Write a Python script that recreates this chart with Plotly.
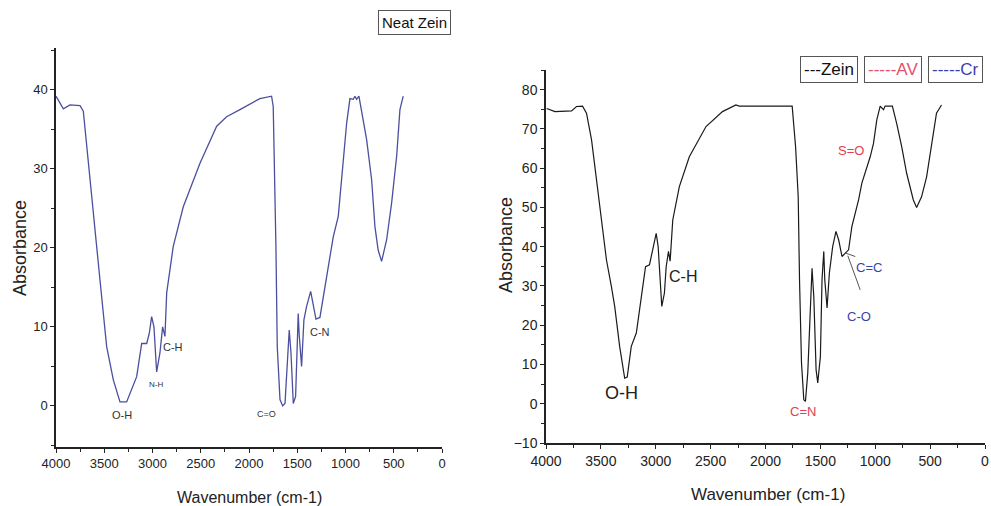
import plotly.graph_objects as go

# ---------------- Data ----------------
# Left panel: Neat Zein spectrum
zein_wn = [4000, 3924, 3855, 3751, 3717, 3682, 3613, 3544, 3475, 3406, 3337, 3268,
           3164, 3112, 3060, 3033, 3009, 2985, 2957, 2923, 2895, 2871, 2853, 2785,
           2681, 2508, 2335, 2232, 2094, 1887, 1766, 1749, 1721, 1707, 1679, 1651,
           1627, 1604, 1583, 1565, 1541, 1517, 1490, 1480, 1455, 1431, 1403, 1361,
           1334, 1306, 1265, 1231, 1179, 1127, 1075, 1041, 988, 954, 920, 902, 885,
           861, 833, 781, 729, 695, 661, 626, 574, 522, 470, 436, 402]
zein_abs = [39.2, 37.6, 38.1, 38.0, 37.3, 32.8, 24.4, 15.9, 7.5, 3.3, 0.5, 0.5,
            3.7, 7.9, 7.9, 9.2, 11.3, 10.0, 4.3, 6.7, 10.0, 8.8, 14.3, 20.2,
            25.2, 30.7, 35.4, 36.6, 37.5, 38.9, 39.2, 37.9, 20.2, 7.5, 0.8, 0.0,
            0.3, 4.6, 9.6, 6.7, 0.3, 1.2, 11.7, 9.0, 5.0, 10.9, 12.6, 14.5,
            12.6, 11.0, 11.2, 13.8, 17.6, 21.4, 24.0, 28.6, 35.8, 38.9, 38.8, 39.2, 38.8,
            39.2, 37.3, 33.7, 28.6, 22.7, 19.7, 18.3, 21.0, 25.7, 31.6, 37.5, 39.2]

# Right panel: Zein spectrum (with AV / Cr labels)
comp_wn = [3994, 3918, 3767, 3722, 3667, 3631, 3585, 3540, 3495, 3449, 3404, 3374,
           3329, 3283, 3260, 3223, 3177, 3132, 3093, 3057, 3018, 2996, 2978, 2960,
           2945, 2921, 2905, 2884, 2869, 2845, 2785, 2694, 2542, 2392, 2270, 2240,
           1757, 1726, 1702, 1690, 1672, 1651, 1636, 1615, 1590, 1576, 1560, 1539,
           1524, 1500, 1485, 1469, 1460, 1439, 1418, 1388, 1358, 1333, 1303, 1273,
           1243, 1213, 1182, 1152, 1122, 1091, 1046, 1016, 986, 955, 925, 910, 844,
           805, 759, 714, 683, 653, 623, 578, 532, 487, 442, 396]
comp_abs = [75.2, 74.4, 74.6, 75.7, 75.8, 74.0, 67.2, 57.0, 46.8, 36.6, 29.8, 24.8,
            14.6, 6.5, 6.8, 14.6, 18.0, 27.3, 34.9, 35.4, 40.0, 43.4, 40.0, 29.8,
            24.8, 28.2, 34.9, 38.8, 36.3, 46.8, 55.3, 62.9, 70.6, 74.4, 76.1, 75.8,
            75.8, 65.5, 52.7, 31.6, 10.4, 1.0, 0.6, 7.8, 28.2, 34.5, 27.3, 8.7,
            5.3, 12.0, 31.6, 38.8, 31.6, 24.4, 33.3, 40.0, 43.9, 41.7, 37.5, 38.3,
            39.2, 45.1, 48.5, 51.9, 56.2, 58.7, 62.9, 66.3, 72.3, 75.8, 74.9, 75.8, 75.8,
            71.4, 65.5, 58.7, 55.3, 51.9, 50.0, 52.7, 57.8, 65.5, 74.0, 76.1]

# Peak labels
left_labels = ["O-H", "N-H", "C-H", "C=O", "C-N"]
left_label_wn = [3319, 2967, 2785, 1817, 1265]
left_label_abs = [-1.1, 2.7, 7.5, -1.0, 9.4]
left_label_size = [11, 8, 11, 9, 11]

right_labels = ["O-H", "C-H", "S=O", "C=C", "C-O", "C=N"]
right_label_wn = [3313, 2755, 1218, 1061, 1146, 1660]
right_label_abs = [2.7, 32.4, 64.6, 34.8, 22.2, -2.0]
right_label_color = ["#222222", "#222222", "#e04050", "#3a44a8", "#3a44a8", "#e04050"]
right_label_size = [18, 16, 13, 13, 13, 13]

legend_texts = ["---Zein", "-----AV", "-----Cr"]
legend_colors = ["#111111", "#e8506a", "#3a40b0"]

x_ticks = [4000, 3500, 3000, 2500, 2000, 1500, 1000, 500, 0]

FONT = "Liberation Sans, Arial, sans-serif"
W, H = 991, 506

def px_x(p):
    return p / W

def px_y(p):
    return 1 - p / H

fig = go.Figure()
fig.add_trace(go.Scatter(x=zein_wn, y=zein_abs, mode="lines",
                         line=dict(color="#4b4f9e", width=1.3),
                         xaxis="x", yaxis="y", showlegend=False))
fig.add_trace(go.Scatter(x=comp_wn, y=comp_abs, mode="lines",
                         line=dict(color="#1a1a1a", width=1.2),
                         xaxis="x2", yaxis="y2", showlegend=False))

axis_common = dict(showgrid=False, zeroline=False, showline=True, linecolor="#222",
                   linewidth=1.5, ticks="outside", tickcolor="#222", tickwidth=1.2,
                   mirror=False, automargin=False, ticklabeloverflow="allow")

fig.update_layout(
    width=W, height=H, margin=dict(l=0, r=0, t=0, b=0, autoexpand=False),
    paper_bgcolor="white", plot_bgcolor="white",
    font=dict(family=FONT, color="#222"),
    xaxis=dict(domain=[px_x(56), px_x(442)], range=[4000, 0], anchor="y",
               tickvals=x_ticks, ticklen=4, tickfont=dict(size=13),
               minor=dict(ticks="outside", ticklen=3, dtick=250, tickcolor="#222"),
               **axis_common),
    yaxis=dict(domain=[px_y(447), px_y(48)], range=[-5.2, 45.3], anchor="x",
               tickvals=[0, 10, 20, 30, 40], ticklen=4, tickfont=dict(size=13),
               minor=dict(ticks="outside", ticklen=3, dtick=5, tickcolor="#222"),
               **axis_common),
    xaxis2=dict(domain=[px_x(546), px_x(985)], range=[4000, 0], anchor="y2",
                tickvals=x_ticks, ticklen=4, tickfont=dict(size=14),
                minor=dict(ticks="outside", ticklen=3, dtick=250, tickcolor="#222"),
                **axis_common),
    yaxis2=dict(domain=[px_y(443), px_y(70)], range=[-10, 85], anchor="x2",
                tickvals=[-10, 0, 10, 20, 30, 40, 50, 60, 70, 80], ticklen=4,
                tickfont=dict(size=14),
                minor=dict(ticks="outside", ticklen=3, dtick=5, tickcolor="#222"),
                **axis_common),
)

C = dict(xanchor="center", yanchor="middle", showarrow=False)
ann = []
# axis titles
ann.append(dict(text="Wavenumber (cm-1)", x=px_x(249), y=px_y(497), xref="paper", yref="paper",
                font=dict(size=16, color="#222"), **C))
ann.append(dict(text="Absorbance", x=px_x(20), y=px_y(248), xref="paper", yref="paper",
                textangle=-90, font=dict(size=18, color="#222"), **C))
ann.append(dict(text="Wavenumber (cm-1)", x=px_x(768), y=px_y(494), xref="paper", yref="paper",
                font=dict(size=17, color="#222"), **C))
ann.append(dict(text="Absorbance", x=px_x(506), y=px_y(245), xref="paper", yref="paper",
                textangle=-90, font=dict(size=18, color="#222"), **C))

# panel label box
ann.append(dict(text="Neat Zein", x=px_x(414), y=px_y(23), xref="paper", yref="paper",
                font=dict(size=15, color="#111"),
                bordercolor="#555", borderwidth=1, borderpad=3, bgcolor="white", **C))
# legend boxes
for t, c, cx in zip(legend_texts, legend_colors, [828.5, 893, 955.5]):
    ann.append(dict(text=t, x=px_x(cx), y=px_y(70), xref="paper", yref="paper",
                    font=dict(size=17, color=c),
                    bordercolor="#555", borderwidth=1, borderpad=3, bgcolor="white", **C))

for t, xw, ya, s in zip(left_labels, left_label_wn, left_label_abs, left_label_size):
    ann.append(dict(text=t, x=xw, y=ya, xref="x", yref="y",
                    font=dict(size=s, color="#333"), **C))
for t, xw, ya, c, s in zip(right_labels, right_label_wn, right_label_abs, right_label_color,
                           right_label_size):
    ann.append(dict(text=t, x=xw, y=ya, xref="x2", yref="y2",
                    font=dict(size=s, color=c), **C))

fig.update_layout(annotations=ann)

# leader lines for C=C and C-O
fig.add_shape(type="line", xref="x2", yref="y2", x0=1250, y0=37.7, x1=1137, y1=29.0,
              line=dict(color="#555", width=1))
fig.add_shape(type="line", xref="x2", yref="y2", x0=1273, y0=38.4, x1=1182, y1=37.5,
              line=dict(color="#555", width=1))

fig.write_html("out.html", config={"displayModeBar": False},
               post_script="document.body.style.margin='0px';document.body.style.overflow='hidden';")
